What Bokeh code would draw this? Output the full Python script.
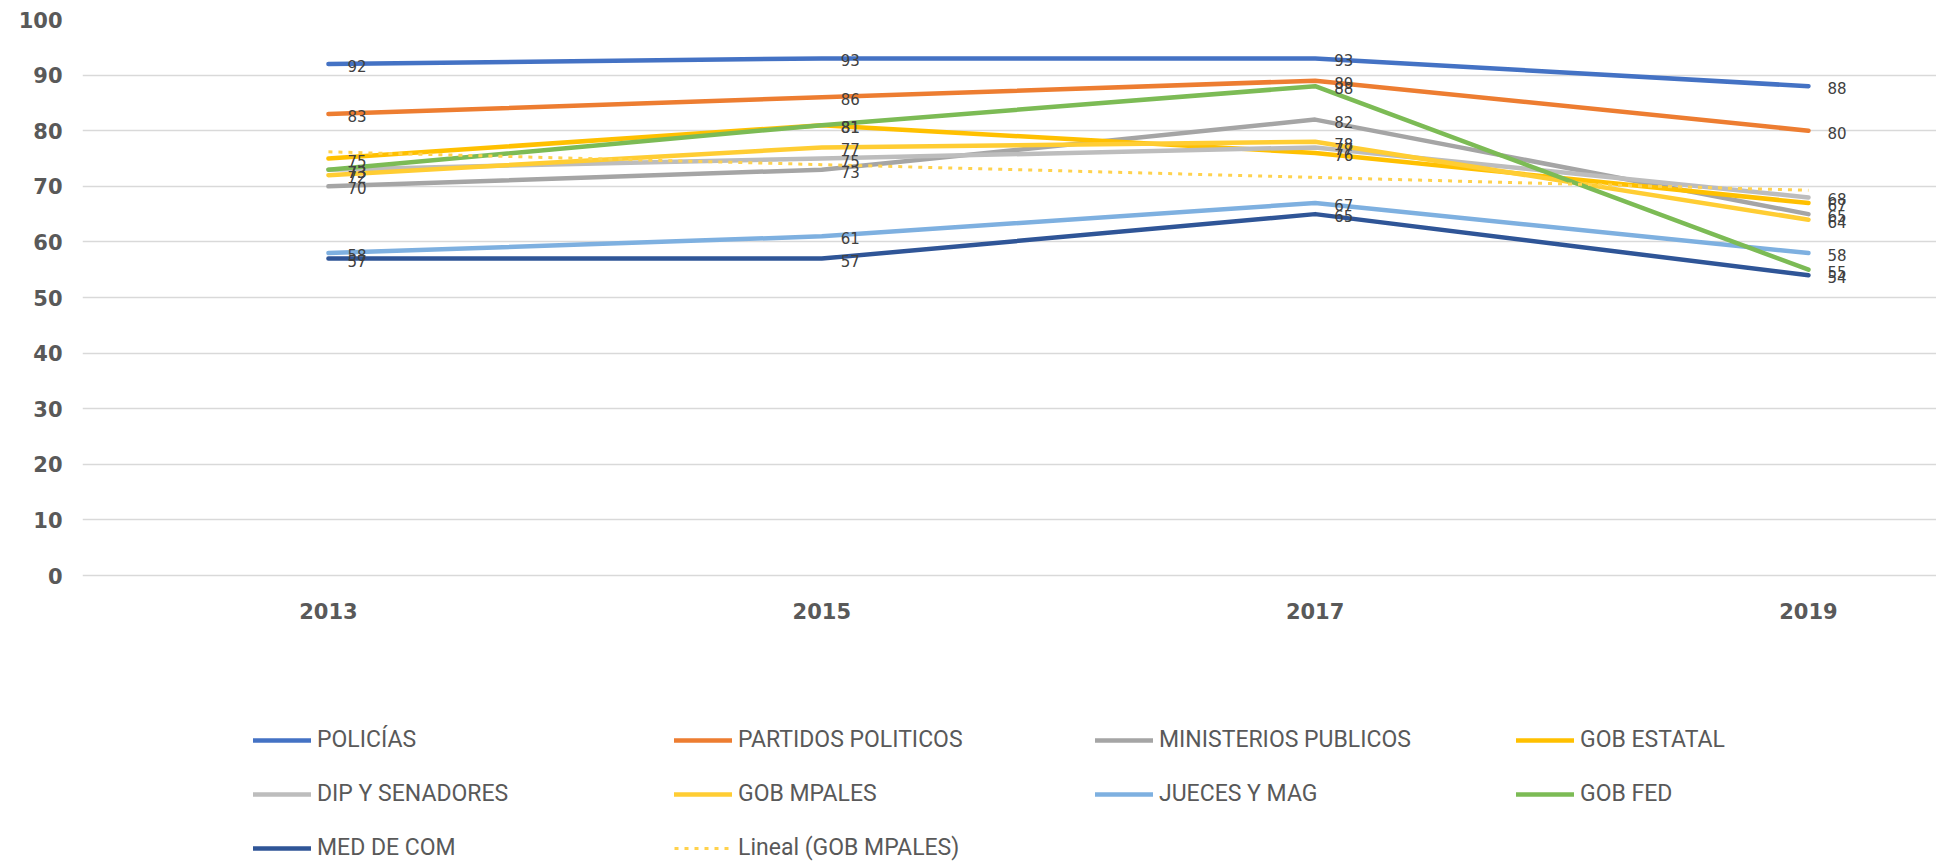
import numpy as np
from bokeh.plotting import figure
from bokeh.models import Range1d, FixedTicker, Legend, LegendItem, ColumnDataSource
from bokeh.core.properties import value
from bokeh.embed import file_html
from bokeh.resources import INLINE

# ---- data ----
years = [2013, 2015, 2017, 2019]
policias = [92, 93, 93, 88]
partidos_politicos = [83, 86, 89, 80]
ministerios_publicos = [70, 73, 82, 65]
gob_estatal = [75, 81, 76, 67]
dip_senadores = [73, 75, 77, 68]
gob_mpales = [72, 77, 78, 64]
jueces_mag = [58, 61, 67, 58]
gob_fed = [73, 81, 88, 55]
med_com = [57, 57, 65, 54]
y_ticks = [0, 10, 20, 30, 40, 50, 60, 70, 80, 90, 100]

series_names = ["POLICÍAS", "PARTIDOS POLITICOS", "MINISTERIOS PUBLICOS", "GOB ESTATAL",
                "DIP Y SENADORES", "GOB MPALES", "JUECES Y MAG", "GOB FED", "MED DE COM"]
series_values = [policias, partidos_politicos, ministerios_publicos, gob_estatal,
                 dip_senadores, gob_mpales, jueces_mag, gob_fed, med_com]
series_colors = ["#4472C4", "#ED7D31", "#A5A5A5", "#FFC000",
                 "#BDBDBD", "#FFCD33", "#7EB0E0", "#7CBB55", "#2F5597"]
trend_name = "Lineal (GOB MPALES)"
trend_color = "#FFD24D"

W, H = 1936, 862
p = figure(width=W, height=H, output_backend="svg", toolbar_location=None,
           x_range=Range1d(2012.003, 2019.519), y_range=Range1d(-51.6, 100),
           min_border_left=82, min_border_right=0, min_border_top=19,
           min_border_bottom=0)
p.outline_line_color = None
p.background_fill_color = "white"
p.border_fill_color = "white"

p.xgrid.grid_line_color = None
p.ygrid.grid_line_color = "#D9D9D9"
p.ygrid.grid_line_width = 1.3
p.ygrid.ticker = FixedTicker(ticks=y_ticks)

p.yaxis.ticker = FixedTicker(ticks=y_ticks)
p.xaxis.ticker = FixedTicker(ticks=years)
p.xaxis.fixed_location = 0
for ax in (p.xaxis, p.yaxis):
    ax.axis_line_color = None
    ax.major_tick_line_color = None
    ax.minor_tick_line_color = None
    ax.major_tick_out = 0
    ax.major_tick_in = 0
    ax.minor_tick_out = 0
    ax.minor_tick_in = 0
    ax.major_label_text_font = "DejaVu Sans"
    ax.major_label_text_font_style = "bold"
    ax.major_label_text_font_size = "21px"
    ax.major_label_text_color = "#595959"
p.yaxis.major_label_standoff = 20
p.xaxis.major_label_standoff = 27

items = []
for name, vals, col in zip(series_names, series_values, series_colors):
    src = ColumnDataSource(dict(x=years, y=vals))
    r = p.line("x", "y", source=src, line_color=col, line_width=4.5,
               line_cap="round", line_join="round")
    items.append(LegendItem(label=name, renderers=[r]))

# linear trend of GOB MPALES
coef = np.polyfit(years, gob_mpales, 1)
trend_y = list(np.polyval(coef, years))
rt = p.line(years, trend_y, line_color=trend_color, line_width=3,
            line_dash="4 6")
items.append(LegendItem(label=trend_name, renderers=[rt]))

# data labels
for name, vals in zip(series_names, series_values):
    src = ColumnDataSource(dict(x=years, y=vals, t=[str(v) for v in vals]))
    p.text("x", "y", text="t", source=src, x_offset=19, y_offset=2,
           text_align="left", text_baseline="middle",
           text_font=value("DejaVu Sans"), text_font_size="15px",
           text_color="#404040")

legend = Legend(items=items, ncols=4, location=(171, 1),
                orientation="horizontal")
legend.border_line_color = None
legend.background_fill_alpha = 0
legend.padding = 0
legend.margin = 0
legend.spacing = 27
legend.glyph_width = 58
legend.glyph_height = 16
legend.label_height = 16
legend.label_width = 330
legend.label_standoff = 6
legend.label_text_font = "Roboto"
legend.label_text_font_size = "23px"
legend.label_text_color = "#595959"
legend.label_text_baseline = "middle"
p.add_layout(legend, "center")

open("out.html", "w").write(file_html(p, INLINE))
